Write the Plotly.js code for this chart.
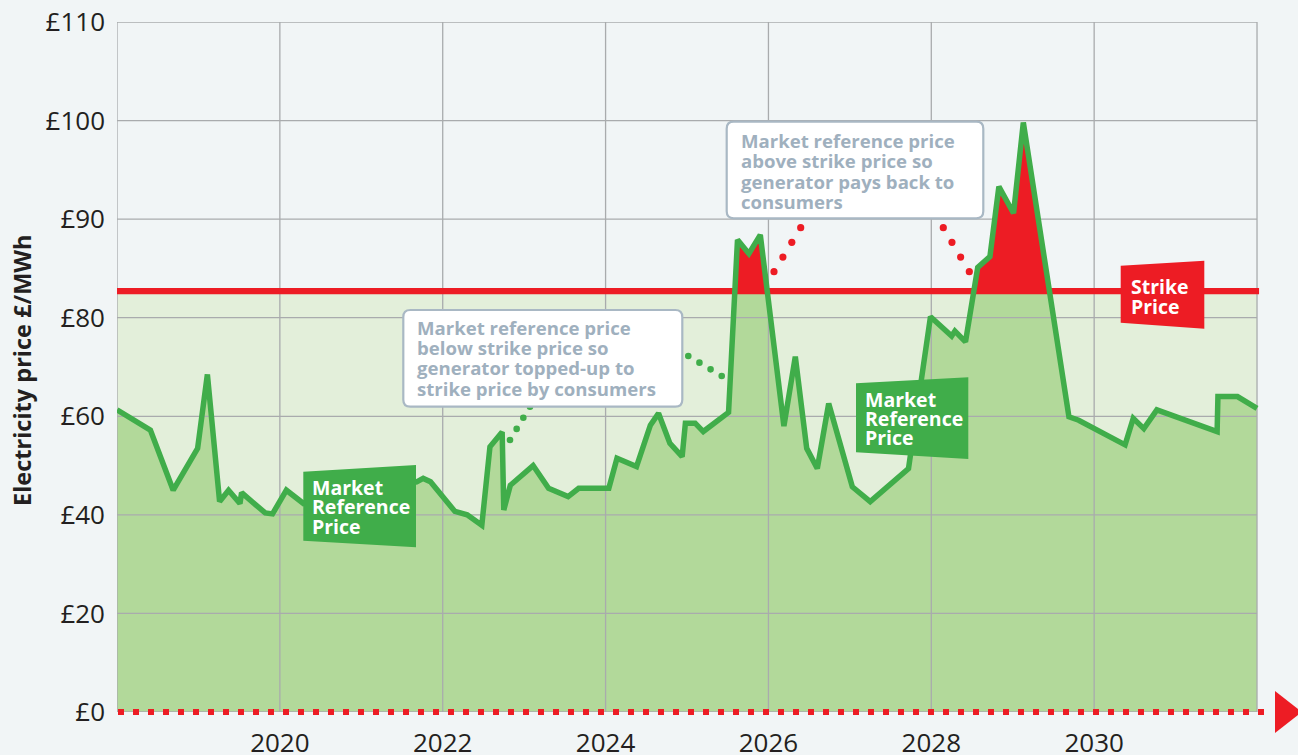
<!DOCTYPE html>
<html><head><meta charset="utf-8">
<script src="https://cdn.plot.ly/plotly-3.0.1.min.js"></script>
<style>html,body{margin:0;padding:0;background:#f1f5f6;overflow:hidden}#chart{width:1298px;height:755px}</style>
</head><body><div id="chart"></div>
<script>
// ---- data ----
const years = [2018.00,2018.41,2018.69,2018.99,2019.11,2019.26,2019.37,2019.51,2019.53,2019.82,2019.91,2020.08,2020.29,2021.68,2021.76,2021.85,2022.15,2022.30,2022.48,2022.58,2022.73,2022.75,2022.83,2023.11,2023.30,2023.54,2023.67,2024.04,2024.14,2024.38,2024.55,2024.65,2024.79,2024.94,2024.98,2025.10,2025.20,2025.51,2025.62,2025.76,2025.90,2026.19,2026.33,2026.47,2026.60,2026.74,2027.03,2027.25,2027.72,2027.99,2028.25,2028.29,2028.42,2028.57,2028.72,2028.83,2029.01,2029.13,2029.69,2029.81,2030.38,2030.48,2030.61,2030.77,2031.51,2031.52,2031.76,2032.00];
const marketPrice = [61.3,57.2,45.0,53.5,68.5,42.7,45.0,42.3,44.5,40.4,40.2,45.0,42.3,46.7,47.4,46.7,40.7,40.0,37.9,53.8,56.8,41.0,46.0,50.0,45.4,43.7,45.4,45.4,51.5,49.8,58.2,60.6,54.5,51.8,58.6,58.6,56.9,60.8,87.9,86.5,88.4,58.0,72.1,53.5,49.4,62.6,45.7,42.7,49.4,80.1,76.3,77.3,75.1,85.1,86.2,93.3,90.6,99.8,59.9,59.2,54.2,59.6,57.5,61.3,56.9,64.0,64.0,61.6];
const strikePrice = 82.7;
const priceTicks = [0,20,40,60,80,90,100,110];
const yearTicks = [2020,2022,2024,2026,2028,2030];
const gridYears = [2018,2020,2022,2024,2026,2028,2030,2032];
const yearStart = 2018, yearEnd = 2032;

// axis gridlines are evenly spaced although labels jump from 20s to 10s above £80
function toAxis(v){ return v <= 80 ? v : 80 + 2*(v - 80); }

const GREEN = '#40ad4a', RED = '#ed1c24', GRID = '#a9abad';
const yAx = marketPrice.map(toAxis);
const S = toAxis(strikePrice);
const yTop = toAxis(priceTicks[priceTicks.length-1]);

// red region: points above strike with crossing points inserted
const rx = [], ry = [];
for (let i = 0; i < years.length; i++) {
  rx.push(years[i]); ry.push(Math.max(yAx[i], S));
  if (i < years.length - 1 && (yAx[i]-S)*(yAx[i+1]-S) < 0) {
    const t = (S - yAx[i])/(yAx[i+1]-yAx[i]);
    rx.push(years[i] + t*(years[i+1]-years[i])); ry.push(S);
  }
}

// gridlines as a trace so they sit above the green fill but under the line
const gx = [], gy = [];
gridYears.forEach(x => { gx.push(x, x, null); gy.push(0, yTop, null); });
priceTicks.forEach(v => { gx.push(yearStart, yearEnd, null); gy.push(toAxis(v), toAxis(v), null); });

const traces = [
  {x: years, y: yAx, mode:'lines', fill:'tozeroy', fillcolor:'#b2d99a', line:{width:0}, hoverinfo:'skip'},
  {x: gx, y: gy, mode:'lines', line:{color:GRID, width:1.3}, connectgaps:false, hoverinfo:'skip'},
  {x: [yearStart, yearEnd], y: [S, S], mode:'lines', line:{width:0}, hoverinfo:'skip'},
  {x: rx, y: ry, mode:'lines', fill:'tonexty', fillcolor:RED, line:{width:0}, hoverinfo:'skip'},
  {x: [yearStart, yearEnd + 0.025], y: [S, S], mode:'lines', line:{color:RED, width:6.3}, hoverinfo:'skip'},
  {x: years, y: yAx, mode:'lines', line:{color:GREEN, width:5.5}, hoverinfo:'skip'}
];

// layout helpers (pixel -> paper)
const PX0 = 117, PW = 1148, PY0 = 712, PH = 690;
const px = x => (x - PX0)/PW, py = y => (PY0 - y)/PH;
const P = (x, y) => px(x) + ',' + py(y);

function quad(pts, color){
  return {type:'path', xref:'paper', yref:'paper', layer:'above',
    path: 'M' + pts.map(p => P(p[0], p[1])).join(' L') + ' Z',
    fillcolor: color, line:{width:0}};
}
function roundBox(x0, y0, x1, y1, r){
  const d = `M${P(x0+r,y0)} L${P(x1-r,y0)} Q${P(x1,y0)} ${P(x1,y0+r)} L${P(x1,y1-r)} Q${P(x1,y1)} ${P(x1-r,y1)} L${P(x0+r,y1)} Q${P(x0,y1)} ${P(x0,y1-r)} L${P(x0,y0+r)} Q${P(x0,y0)} ${P(x0+r,y0)} Z`;
  return {type:'path', xref:'paper', yref:'paper', layer:'above', path:d, fillcolor:'#ffffff', line:{color:'#a9b8c4', width:2.2}};
}
function dots(x0, y0, x1, y1, n, r, color){
  const out = [];
  for (let i = 0; i < n; i++) {
    const cx = x0 + (x1-x0)*i/(n-1), cy = y0 + (y1-y0)*i/(n-1);
    out.push({type:'circle', xref:'paper', yref:'paper', layer:'above',
      x0:px(cx-r), x1:px(cx+r), y0:py(cy+r), y1:py(cy-r), fillcolor:color, line:{width:0}});
  }
  return out;
}

const shapes = [
  {type:'rect', xref:'x', yref:'y', x0:yearStart, x1:yearEnd, y0:0, y1:S, fillcolor:'#e3efda', line:{width:0}, layer:'below'},
  {type:'line', xref:'paper', yref:'paper', x0:px(118), x1:px(1265), y0:0, y1:0, line:{color:RED, width:6, dash:'6px,9px'}, layer:'above'},
  quad([[1275,691],[1302,712],[1275,733]], RED),
  ...dots(510,440,530,406.7,4,3.3,GREEN),
  ...dots(688.3,356,721.7,376,4,3.3,GREEN),
  ...dots(774,271.7,800.7,227.7,4,3.6,RED),
  ...dots(943.3,227.7,969.3,271.7,4,3.6,RED),
  roundBox(403.3,310,682.3,406.7,7),
  roundBox(726.7,121.7,983.3,218.3,7),
  quad([[303.3,471.7],[416,465],[416,547.3],[303.3,540.7]], GREEN),
  quad([[856,383.3],[968.3,377.3],[968.3,459],[856,452.3]], GREEN),
  quad([[1120.7,265.7],[1204.3,260.7],[1204.3,328.7],[1120.7,322.7]], RED)
];

const annotations = [];
function lines(x, ys, texts, size, color){
  texts.forEach((t, i) => annotations.push({xref:'paper', yref:'paper', x:px(x), y:py(ys[i]),
    xanchor:'left', yanchor:'middle', showarrow:false, text:'<b>'+t+'</b>',
    font:{family:'Open Sans', size:size, color:color}}));
}
lines(310, [487,506.5,526], ['Market','Reference','Price'], 19.5, '#ffffff');
lines(862.5, [399,418.5,438], ['Market','Reference','Price'], 19.5, '#ffffff');
lines(1129, [286,306], ['Strike','Price'], 19.5, '#ffffff');
lines(414.5, [327.5,347.8,368,388], ['Market reference price','below strike price so','generator topped-up to','strike price by consumers'], 18.6, '#9fb0be');
lines(738.5, [140,160.5,181,201.5], ['Market reference price','above strike price so','generator pays back to','consumers'], 18.6, '#9fb0be');
annotations.push({xref:'paper', yref:'paper', x:px(22), y:py(370), textangle:-90, showarrow:false,
  xanchor:'center', yanchor:'middle', text:'<b>Electricity price £/MWh</b>',
  font:{family:'Open Sans', size:23.5, color:'#231f20'}});

const layout = {
  width:1298, height:755,
  margin:{l:117, r:1298-117-PW, t:22, b:43},
  paper_bgcolor:'#f1f5f6', plot_bgcolor:'#f1f5f6',
  showlegend:false,
  xaxis:{range:[yearStart, yearStart + PW/81.43], tickvals:yearTicks, ticktext:yearTicks.map(String),
    showgrid:false, zeroline:false, showline:false, ticks:'', ticklabelstandoff:13,
    tickfont:{family:'Open Sans', size:26, color:'#231f20'}, fixedrange:true},
  yaxis:{range:[0, yTop], tickvals:priceTicks.map(toAxis), ticktext:priceTicks.map(v => '£'+v),
    showgrid:false, zeroline:false, showline:false, ticks:'', ticklabelstandoff:11,
    tickfont:{family:'Open Sans', size:26, color:'#231f20'}, fixedrange:true},
  shapes: shapes, annotations: annotations
};
Plotly.newPlot('chart', traces, layout, {staticPlot:true, displayModeBar:false});
</script></body></html>
